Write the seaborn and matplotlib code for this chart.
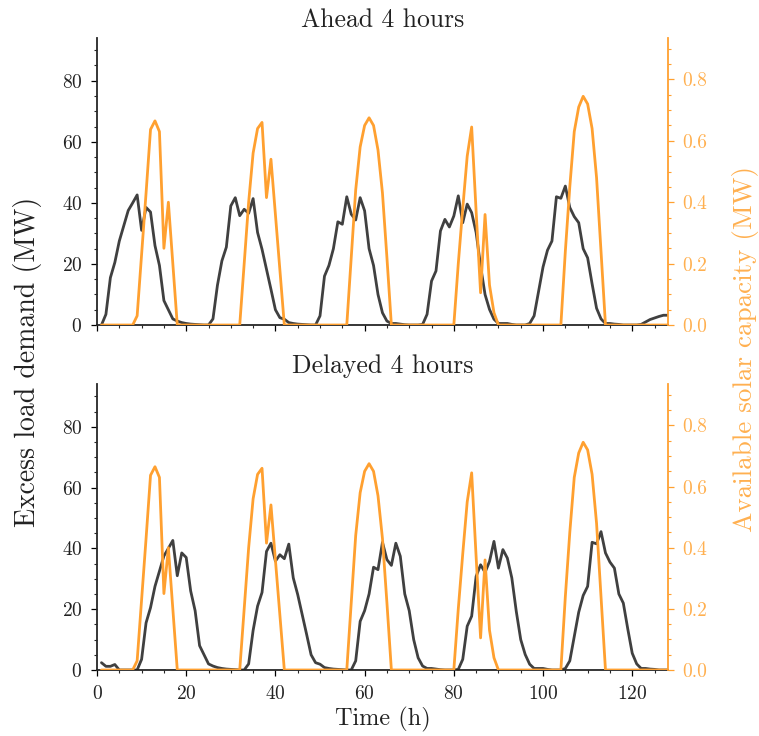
import numpy as np
import pandas as pd
import matplotlib
matplotlib.use("Agg")
import matplotlib.pyplot as plt
from matplotlib.ticker import MultipleLocator
import seaborn as sns

hours = list(range(1, 129))

load_ahead = [
    0, 3.5, 15.5, 20.5, 27.5, 32.5, 37.5, 40, 42.6, 31,
    38.5, 37, 26, 19.5, 8, 5, 2, 1.3, 0.8, 0.5,
    0.3, 0.2, 0.1, 0, 0, 2, 13, 21, 25.5, 39,
    41.7, 35.8, 37.9, 36.6, 41.4, 30.3, 24.8, 18.3, 11.7, 5,
    2.4, 1.9, 0.8, 0.5, 0.3, 0.2, 0.1, 0, 0, 3,
    16, 19.5, 25, 33.8, 33, 42, 36.3, 34.4, 41.7, 37.4,
    25, 19.5, 10, 4, 1.3, 0.5, 0.5, 0.3, 0.1, 0,
    0, 0, 0.2, 3.5, 14.4, 17.7, 30.8, 34.6, 32.1, 35.7,
    42.3, 33.5, 39.6, 36.8, 30.3, 19.3, 10, 5.1, 1.9, 0.5,
    0.5, 0.5, 0.2, 0, 0, 0, 0.5, 3, 11, 19,
    24.5, 27.5, 42, 41.5, 45.5, 38.5, 35.5, 33.5, 25, 22,
    13.5, 5.5, 2, 0.5, 0.5, 0.3, 0.2, 0, 0, 0,
    0, 0.2, 1, 1.8, 2.3, 2.8, 3.2, 3.2,
]

load_delayed = [
    2.4, 1.2, 1.2, 1.8, 0, 0, 0, 0, 0, 3.5,
    15.5, 20.5, 27.5, 32.5, 37.5, 40, 42.6, 31, 38.5, 37,
    26, 19.5, 8, 5, 2, 1.3, 0.8, 0.5, 0.3, 0.2,
    0.1, 0, 0, 2, 13, 21, 25.5, 39, 41.7, 35.8,
    37.9, 36.6, 41.4, 30.3, 24.8, 18.3, 11.7, 5, 2.4, 1.9,
    0.8, 0.5, 0.3, 0.2, 0.1, 0, 0, 3, 16, 19.5,
    25, 33.8, 33, 42, 36.3, 34.4, 41.7, 37.4, 25, 19.5,
    10, 4, 1.3, 0.5, 0.5, 0.3, 0.1, 0, 0, 0,
    0.2, 3.5, 14.4, 17.7, 30.8, 34.6, 32.1, 35.7, 42.3, 33.5,
    39.6, 36.8, 30.3, 19.3, 10, 5.1, 1.9, 0.5, 0.5, 0.5,
    0.2, 0, 0, 0, 0.5, 3, 11, 19, 24.5, 27.5,
    42, 41.5, 45.5, 38.5, 35.5, 33.5, 25, 22, 13.5, 5.5,
    2, 0.5, 0.5, 0.3, 0.2, 0, 0, 0,
]

solar = [
    0, 0, 0, 0, 0, 0, 0, 0, 0.03, 0.23,
    0.43, 0.637, 0.665, 0.63, 0.25, 0.40, 0.2, 0, 0, 0,
    0, 0, 0, 0, 0, 0, 0, 0, 0, 0,
    0, 0, 0.2, 0.4, 0.56, 0.64, 0.66, 0.415, 0.54, 0.36,
    0.18, 0, 0, 0, 0, 0, 0, 0, 0, 0,
    0, 0, 0, 0, 0, 0, 0.22, 0.44, 0.58, 0.65,
    0.675, 0.65, 0.57, 0.43, 0.22, 0, 0, 0, 0, 0,
    0, 0, 0, 0, 0, 0, 0, 0, 0, 0,
    0.2, 0.38, 0.55, 0.645, 0.37, 0.105, 0.36, 0.13, 0.04, 0,
    0, 0, 0, 0, 0, 0, 0, 0, 0, 0,
    0, 0, 0, 0, 0.24, 0.45, 0.63, 0.71, 0.745, 0.72,
    0.64, 0.48, 0.24, 0, 0, 0, 0, 0, 0, 0,
    0, 0, 0, 0, 0, 0, 0, 0,
]

titles = ["Ahead 4 hours", "Delayed 4 hours"]
loads = [load_ahead, load_delayed]

sns.set_style("ticks")
plt.rcParams["font.family"] = ["serif"]
plt.rcParams["font.serif"] = ["cmr10", "DejaVu Serif"]
plt.rcParams["mathtext.fontset"] = "cm"
plt.rcParams["axes.formatter.use_mathtext"] = True
plt.rcParams["axes.unicode_minus"] = False

BLACK = "#404040"
ORANGE = "#ffa030"
ORANGE_TXT = "#ffb050"
TICK_FS = 14
PAD = 6

fig = plt.figure(figsize=(7.59, 7.36), dpi=100)
L, R = 0.1278, 0.880
axes_pos = [(L, 0.5584, R - L, 0.9484 - 0.5584), (L, 0.0897, R - L, 0.478 - 0.0897)]

for i, (pos, title, load) in enumerate(zip(axes_pos, titles, loads)):
    ax = fig.add_axes(pos)
    df = pd.DataFrame({"Time": hours, "Load": load, "Solar": solar})
    sns.lineplot(data=df, x="Time", y="Load", ax=ax, color=BLACK, lw=2.0)
    ax.set_xlim(0, 128)
    ax.set_ylim(0, 94)
    ax.xaxis.set_major_locator(MultipleLocator(20))
    ax.xaxis.set_minor_locator(MultipleLocator(5))
    ax.yaxis.set_major_locator(MultipleLocator(20))
    ax.yaxis.set_minor_locator(MultipleLocator(5))
    ax.tick_params(axis="both", which="major", length=4.5, width=0.9, labelsize=TICK_FS,
                   colors="black", pad=PAD)
    ax.tick_params(axis="both", which="minor", length=2.2, width=0.8)
    ax.tick_params(axis="both", labelcolor="#222222")
    for s in ["top", "right"]:
        ax.spines[s].set_visible(False)
    ax.spines["left"].set_linewidth(1.3)
    ax.spines["bottom"].set_linewidth(1.3)
    ax.set_ylabel("")
    ax.set_title(title, fontsize=18.5, color="#222222", pad=8)
    if i == 0:
        ax.set_xlabel("")
        ax.tick_params(axis="x", labelbottom=False)
    else:
        ax.set_xlabel("Time (h)", fontsize=17.5, color="#222222", labelpad=3)

    ax2 = ax.twinx()
    sns.lineplot(data=df, x="Time", y="Solar", ax=ax2, color=ORANGE, lw=2.0)
    ax2.set_ylim(0, 0.935)
    ax2.set_ylabel("")
    ax2.yaxis.set_major_locator(MultipleLocator(0.2))
    ax2.yaxis.set_minor_locator(MultipleLocator(0.05))
    ax2.yaxis.set_major_formatter(matplotlib.ticker.FormatStrFormatter("%.1f"))
    for s in ["top", "left", "bottom"]:
        ax2.spines[s].set_visible(False)
    ax2.spines["right"].set_color(ORANGE)
    ax2.spines["right"].set_linewidth(1.3)
    ax2.tick_params(axis="y", which="major", length=4.5, width=0.9, colors=ORANGE,
                    labelcolor=ORANGE_TXT, labelsize=TICK_FS, pad=PAD)
    ax2.tick_params(axis="y", which="minor", length=2.2, width=0.8, colors=ORANGE)

fig.text(0.036, 0.508, "Excess load demand (MW)", rotation=90, ha="center", va="center",
         fontsize=20, color="#222222")
fig.text(0.982, 0.526, "Available solar capacity (MW)", rotation=90, ha="center", va="center",
         fontsize=19.5, color=ORANGE_TXT)

fig.savefig("out.png", dpi=100)
